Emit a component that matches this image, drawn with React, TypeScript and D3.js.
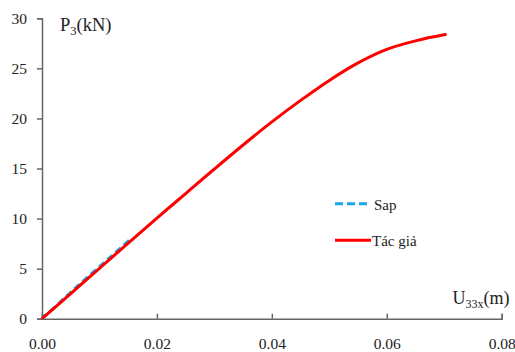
import { useEffect, useRef } from "react";
import * as d3 from "d3";

// Tác giả curve (U33x in m, P3 in kN)
const tacGiaU = [0, 0.005, 0.01, 0.015, 0.02, 0.025, 0.03, 0.035, 0.04, 0.045, 0.05, 0.055, 0.06, 0.065, 0.0704];
const tacGiaP = [0, 2.5, 5.03, 7.55, 10.05, 12.5, 14.95, 17.35, 19.65, 21.8, 23.8, 25.55, 26.9, 27.75, 28.4];

// Sap curve
const sapU = [0, 0.004, 0.008, 0.012, 0.0155];
const sapP = [0, 2.1, 4.2, 6.2, 8.0];

const xTicks = [0, 0.02, 0.04, 0.06, 0.08];
const yTicks = [0, 5, 10, 15, 20, 25, 30];

const FONT = "Liberation Serif, Times New Roman, DejaVu Serif, serif";
const RED = "#ff0000";
const BLUE = "#1aa7e6";
const AXIS = "#666666";
const TEXT = "#222222";

export default function App ()
{
    const svgRef = useRef<SVGSVGElement>( null );

    useEffect( () =>
    {
        if ( !svgRef.current ) return;
        const svg = d3.select( svgRef.current );
        svg.selectAll( "*" ).remove();

        const W = 515, H = 352;
        const m = { top: 18.3, right: 13.3, bottom: 33.3, left: 42 };
        const w = W - m.left - m.right;
        const h = H - m.top - m.bottom;

        const g = svg.append( "g" ).attr( "transform", `translate(${ m.left },${ m.top })` );

        const x = d3.scaleLinear().domain( [ 0, 0.08 ] ).range( [ 0, w ] );
        const y = d3.scaleLinear().domain( [ 0, 30 ] ).range( [ h, 0 ] );

        // Axes
        g.append( "g" ).attr( "transform", `translate(0,${ h })` )
            .call( d3.axisBottom( x ).tickValues( xTicks ).tickSize( -5 ).tickPadding( 19 ).tickFormat( d3.format( ".2f" ) as any ) )
            .attr( "font-family", FONT ).attr( "font-size", 15.5 )
            .call( ( a ) => a.selectAll( "line, path" ).attr( "stroke", AXIS ).attr( "stroke-width", 1.5 ) )
            .selectAll( "text" ).attr( "fill", TEXT );

        g.append( "g" )
            .call( d3.axisLeft( y ).tickValues( yTicks ).tickSize( 5 ).tickPadding( 10 ) )
            .attr( "font-family", FONT ).attr( "font-size", 15.5 )
            .call( ( a ) => a.selectAll( "line, path" ).attr( "stroke", AXIS ).attr( "stroke-width", 1.5 ) )
            .selectAll( "text" ).attr( "fill", TEXT );

        // Curves
        const tacGia = tacGiaU.map( ( u, i ) => [ u, tacGiaP[ i ] ] as [ number, number ] );
        const sap = sapU.map( ( u, i ) => [ u, sapP[ i ] ] as [ number, number ] );
        const line = d3.line<[ number, number ]>().x( ( d ) => x( d[ 0 ] ) ).y( ( d ) => y( d[ 1 ] ) ).curve( d3.curveCatmullRom );

        g.append( "path" ).datum( sap ).attr( "d", line ).attr( "fill", "none" )
            .attr( "stroke", BLUE ).attr( "stroke-width", 3 ).attr( "stroke-dasharray", "7,4" );
        g.append( "path" ).datum( tacGia ).attr( "d", line ).attr( "fill", "none" )
            .attr( "stroke", RED ).attr( "stroke-width", 3 );

        // Axis titles
        const py = svg.append( "text" ).attr( "x", 60 ).attr( "y", 31 ).attr( "fill", TEXT )
            .attr( "font-family", FONT ).attr( "font-size", 18.5 );
        py.append( "tspan" ).text( "P" );
        py.append( "tspan" ).attr( "dy", 4 ).attr( "font-size", 12.5 ).text( "3" );
        py.append( "tspan" ).attr( "dy", -4 ).text( "(kN)" );

        const px = svg.append( "text" ).attr( "x", 452.5 ).attr( "y", 304 ).attr( "fill", TEXT )
            .attr( "font-family", FONT ).attr( "font-size", 18 );
        px.append( "tspan" ).text( "U" );
        px.append( "tspan" ).attr( "dy", 4 ).attr( "font-size", 12 ).text( "33x" );
        px.append( "tspan" ).attr( "dy", -4 ).text( "(m)" );

        // Legend
        const lg = svg.append( "g" ).attr( "transform", "translate(335,0)" )
            .attr( "font-family", FONT ).attr( "font-size", 15 );
        lg.append( "line" ).attr( "x1", 0 ).attr( "x2", 32 ).attr( "y1", 203.7 ).attr( "y2", 203.7 )
            .attr( "stroke", BLUE ).attr( "stroke-width", 3 ).attr( "stroke-dasharray", "8,4" );
        lg.append( "text" ).attr( "x", 39 ).attr( "y", 209.5 ).text( "Sap" ).attr( "fill", TEXT );
        lg.append( "line" ).attr( "x1", 0 ).attr( "x2", 36 ).attr( "y1", 240.3 ).attr( "y2", 240.3 )
            .attr( "stroke", RED ).attr( "stroke-width", 3 );
        lg.append( "text" ).attr( "x", 37 ).attr( "y", 245.5 ).text( "Tác giả" ).attr( "fill", TEXT );
    }, [] );

    return (
        <div style={ { position: "absolute", left: 0, top: 0, width: 515, height: 352, background: "#fff" } }>
            <svg ref={ svgRef } width={ 515 } height={ 352 } />
        </div>
    );
}
